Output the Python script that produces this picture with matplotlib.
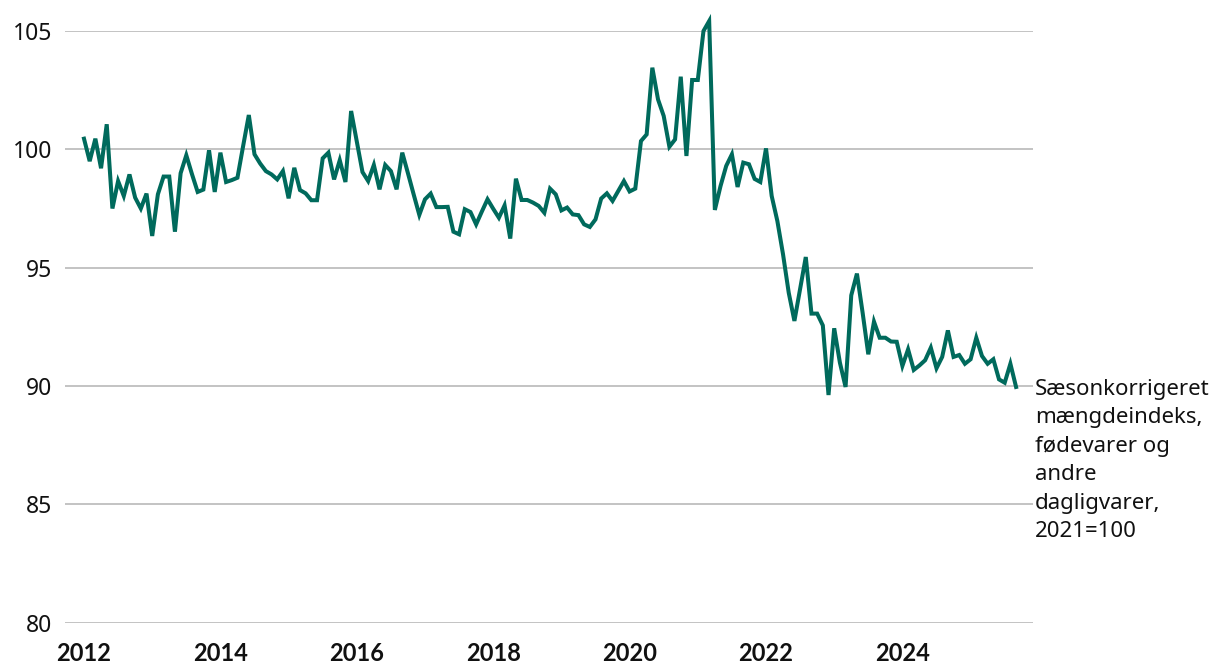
import numpy as np
import matplotlib
matplotlib.use("Agg")
import matplotlib.pyplot as plt

# monthly index, Jan 2012 - Sep 2025
start_year = 2012
values = [
    100.45, 99.5, 100.45, 99.2, 101.06, 97.5, 98.66, 98.03, 98.94, 97.96, 97.5, 98.13,
    96.34, 98.1, 98.85, 98.85, 96.52, 98.99, 99.75, 98.95, 98.2, 98.3, 99.96, 98.2,
    99.86, 98.62, 98.7, 98.8, 100.14, 101.45, 99.79, 99.4, 99.08, 98.94, 98.73, 99.08,
    97.93, 99.22, 98.28, 98.14, 97.85, 97.85, 99.62, 99.86, 98.73, 99.54, 98.62, 101.62,
    100.32, 99.04, 98.66, 99.34, 98.31, 99.34, 99.08, 98.31, 99.86, 98.99, 98.1, 97.23,
    97.89, 98.13, 97.56, 97.56, 97.57, 96.52, 96.41, 97.47, 97.35, 96.83, 97.37, 97.89,
    97.49, 97.11, 97.63, 96.23, 98.76, 97.86, 97.86, 97.75, 97.61, 97.32, 98.34, 98.1,
    97.42, 97.54, 97.25, 97.22, 96.83, 96.72, 97.04, 97.92, 98.14, 97.82, 98.24, 98.66,
    98.22, 98.34, 100.35, 100.63, 103.45, 102.11, 101.41, 100.11, 100.42, 103.07, 99.72, 102.93,
    102.93, 105.0, 105.42, 97.44, 98.45, 99.3, 99.79, 98.41, 99.44, 99.37, 98.75, 98.62,
    100.04, 98.03, 96.97, 95.56, 93.94, 92.75, 94.09, 95.45, 93.06, 93.06, 92.56, 89.62,
    92.44, 90.99, 89.96, 93.83, 94.75, 93.1, 91.34, 92.72, 92.04, 92.04, 91.88, 91.87,
    90.85, 91.55, 90.68, 90.87, 91.09, 91.62, 90.75, 91.23, 92.35, 91.23, 91.31, 90.94,
    91.13, 92.04, 91.27, 90.94, 91.13, 90.28, 90.14, 90.94, 89.96,
]
yticks = [80, 85, 90, 95, 100, 105]
xticks = [2012, 2014, 2016, 2018, 2020, 2022, 2024]
label = "Sæsonkorrigeret\nmængdeindeks,\nfødevarer og\nandre\ndagligvarer,\n2021=100"

line_color = "#006a5c"
grid_color = "#bebebe"

x = start_year + np.arange(len(values)) / 12

plt.rcParams["font.family"] = ["Noto Sans", "DejaVu Sans"]

fig = plt.figure(figsize=(12.2, 6.72), dpi=100)
ax = fig.add_axes([65 / 1220, 1 - 622.7 / 672, (1033 - 65) / 1220, (622.7 - 31) / 672])

ax.plot(x, values, color=line_color, lw=2.9, solid_joinstyle="miter", clip_on=False, zorder=3)

ax.set_ylim(80, 105)
ax.set_xlim(2012 - 19 / 68.2, 2012 + (1033 - 84) / 68.2)
ax.set_yticks(yticks)
ax.set_xticks(xticks)
ax.set_xticklabels([str(t) for t in xticks], fontweight="bold", fontsize=17,
                   family=["Lato", "DejaVu Sans"])
ax.set_yticklabels([str(t) for t in yticks], fontsize=16.5)
ax.tick_params(axis="both", length=0, colors="#111111")
ax.tick_params(axis="y", pad=9)
ax.tick_params(axis="x", pad=14)
ax.grid(axis="y", color=grid_color, lw=1.3)
ax.set_axisbelow(True)
for s in ax.spines.values():
    s.set_visible(False)

ax.annotate(label, xy=(1.0, values[-1]), xycoords=("axes fraction", "data"),
            xytext=(1.5, 6), textcoords="offset points", ha="left", va="top",
            fontsize=16, linespacing=1.47, color="#111111")

fig.savefig("out.png", dpi=100)
